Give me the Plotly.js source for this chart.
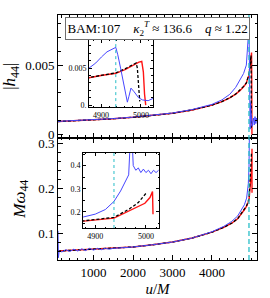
<!DOCTYPE html>
<html><head><meta charset="utf-8">
<script src="https://cdn.plot.ly/plotly-3.0.1.min.js"></script>
<style>html,body{margin:0;padding:0;background:#fff}#chart{width:270px;height:298px}</style>
</head><body><div id="chart"></div>
<script>
// ---- data ----
const mergerU = 4937;

// amplitude |h44|
const uAmpRed   = [100, 500, 1000, 1500, 2000, 2500, 3000, 3500, 4000, 4250, 4450, 4600, 4700, 4800, 4870, 4900, 4937, 4960, 4980, 4995, 5002, 5006, 5009, 5012];
const ampRed    = [0.00095, 0.00100, 0.00107, 0.00115, 0.00125, 0.00138, 0.00154, 0.00178, 0.00212, 0.00238, 0.00265, 0.00292, 0.00315, 0.00345, 0.00370, 0.00400, 0.00430, 0.00480, 0.00540, 0.00580, 0.00590, 0.00450, 0.00150, 0.00000];
const uAmpBlack = [100, 500, 1000, 1500, 2000, 2500, 3000, 3500, 4000, 4250, 4450, 4600, 4700, 4800, 4870, 4900, 4937, 4960, 4980, 4988, 4991, 4994, 4997];
const ampBlack  = [0.00095, 0.00100, 0.00107, 0.00115, 0.00125, 0.00138, 0.00154, 0.00178, 0.00212, 0.00238, 0.00265, 0.00292, 0.00316, 0.00347, 0.00372, 0.00402, 0.00435, 0.00490, 0.00550, 0.00570, 0.00500, 0.00250, 0.00050];
const uAmpBlue  = [100, 500, 1000, 1500, 2000, 2500, 3000, 3500, 4000, 4250, 4450, 4600, 4700, 4800, 4870, 4887, 4901, 4915, 4937, 4942, 4949, 4956, 4963, 4966, 4970, 4975, 4983, 4994, 5004, 5018, 5030, 5050, 5070, 5090, 5110, 5130, 5140];
const ampBlue   = [0.00096, 0.00101, 0.00108, 0.00116, 0.00126, 0.00139, 0.00156, 0.00181, 0.00218, 0.00250, 0.00290, 0.00340, 0.00385, 0.00440, 0.00500, 0.00570, 0.00650, 0.00720, 0.00780, 0.00680, 0.00500, 0.00310, 0.00110, 0.00040, 0.00120, 0.00230, 0.00180, 0.00100, 0.00070, 0.00060, 0.00090, 0.00120, 0.00070, 0.00130, 0.00080, 0.00120, 0.00100];

// frequency M*omega44
const uFrqRed   = [100, 500, 1000, 1500, 2000, 2500, 3000, 3500, 4000, 4300, 4500, 4650, 4750, 4820, 4877, 4937, 4967, 4985, 4998, 5008, 5013, 5014];
const frqRed    = [0.060, 0.062, 0.064, 0.066, 0.069, 0.074, 0.080, 0.089, 0.102, 0.113, 0.122, 0.132, 0.143, 0.152, 0.160, 0.173, 0.204, 0.220, 0.237, 0.262, 0.288, 0.190];
const uFrqBlack = [100, 500, 1000, 1500, 2000, 2500, 3000, 3500, 4000, 4300, 4500, 4650, 4750, 4820, 4877, 4937, 4967, 4985, 4995, 5000];
const frqBlack  = [0.060, 0.062, 0.064, 0.066, 0.069, 0.074, 0.080, 0.089, 0.102, 0.113, 0.122, 0.132, 0.144, 0.153, 0.161, 0.176, 0.212, 0.240, 0.265, 0.280];
const uFrqBlue  = [100, 110, 130, 200, 300, 400, 500, 600, 700, 800, 900, 1000, 1100, 1200, 1300, 1400, 1500, 2000, 2500, 3000, 3500, 4000, 4300, 4500, 4650, 4750, 4820, 4877, 4900, 4920, 4937, 4950, 4960, 4966, 4969, 4973, 4975, 4980, 4985, 4990, 4995, 5000, 5005, 5010, 5015, 5020, 5025];
const frqBlue   = [0.105, 0.045, 0.060, 0.058, 0.063, 0.059, 0.064, 0.060, 0.065, 0.061, 0.066, 0.062, 0.066, 0.063, 0.066, 0.064, 0.066, 0.069, 0.074, 0.080, 0.089, 0.103, 0.115, 0.126, 0.138, 0.152, 0.163, 0.178, 0.190, 0.210, 0.245, 0.290, 0.330, 0.360, 0.500, 0.500, 0.400, 0.380, 0.390, 0.370, 0.385, 0.370, 0.380, 0.365, 0.380, 0.370, 0.380];

// tick labels
const xMainTicks = [1000, 2000, 3000, 4000];
const yAmpTicks = [0, 0.005];
const yAmpText  = ['0', '0.005'];
const yAmpInsetText = ['0.', '0.005'];
const yFrqTicks = [0.1, 0.2, 0.3];
const yFrqInsetTicks = [0.2, 0.3, 0.4];
const xInsetTicks = [4900, 5000];
const boxText = 'BAM:107    <i>κ</i><sub>2</sub><sup><i>T</i></sup> ≈ 136.6    <i>q</i> ≈ 1.22';

// ---- styling ----
const FONT = 'Liberation Serif, Times New Roman, serif';
const cBlue = 'rgb(70,70,255)', cRed = 'rgb(255,20,20)', cBlack = 'black', cCyan = 'rgb(40,190,200)';

function tr(x, y, xa, ya, color, dash, w) {
  return {x: x, y: y, xaxis: xa, yaxis: ya, type: 'scatter', mode: 'lines',
          line: {color: color, width: w, dash: dash}, hoverinfo: 'skip', showlegend: false, cliponaxis: true};
}
const traces = [];
[['x2','y2'],['x3','y3']].forEach(([xa,ya]) => {
  traces.push(tr(uAmpRed, ampRed, xa, ya, cRed, 'solid', 1.4));
  traces.push(tr(uAmpBlack, ampBlack, xa, ya, cBlack, '3px,2px', 1.3));
  traces.push(tr(uAmpBlue, ampBlue, xa, ya, cBlue, 'solid', 1));
});
[['x','y'],['x4','y4']].forEach(([xa,ya]) => {
  traces.push(tr(uFrqRed, frqRed, xa, ya, cRed, 'solid', 1.4));
  traces.push(tr(uFrqBlack, frqBlack, xa, ya, cBlack, '3px,2px', 1.3));
  traces.push(tr(uFrqBlue, frqBlue, xa, ya, cBlue, 'solid', 1));
});

function ax(extra) {
  return Object.assign({
    showline: true, linecolor: 'black', linewidth: 1, mirror: 'allticks',
    ticks: 'inside', ticklen: 5, tickwidth: 1, tickcolor: 'black',
    showgrid: false, zeroline: false, fixedrange: true,
    tickfont: {family: FONT, size: 13, color: 'black'}
  }, extra);
}
const insetFont = {family: FONT, size: 8, color: 'black'};

const layout = {
  width: 270, height: 298,
  margin: {l: 58, r: 13, t: 15, b: 38},
  paper_bgcolor: 'white', plot_bgcolor: 'white',
  font: {family: FONT, color: 'black'},
  showlegend: false,
  xaxis: ax({domain: [0, 1], anchor: 'y', range: [100, 5140], tickvals: xMainTicks,
             minor: {dtick: 200, tick0: 0, ticks: 'inside', ticklen: 2.5, tickcolor: 'black'},
             title: {text: '<i>u</i>/<i>M</i>', font: {family: FONT, size: 15}, standoff: 4}}),
  yaxis: ax({domain: [0, 0.5], anchor: 'x', range: [0.04, 0.313], tickvals: yFrqTicks,
             minor: {dtick: 0.02, tick0: 0, ticks: 'inside', ticklen: 2.5, tickcolor: 'black'},
             title: {text: '<i>M</i><i>ω</i><sub>44</sub>', font: {family: FONT, size: 17}, standoff: 8}}),
  xaxis2: ax({domain: [0, 1], anchor: 'y2', matches: 'x', range: [100, 5140], tickvals: xMainTicks, showticklabels: false,
             minor: {dtick: 200, tick0: 0, ticks: 'inside', ticklen: 2.5, tickcolor: 'black'}}),
  yaxis2: ax({domain: [0.5, 1], anchor: 'x2', range: [-0.0002, 0.0086], tickvals: yAmpTicks, ticktext: yAmpText,
             minor: {dtick: 0.001, tick0: 0, ticks: 'inside', ticklen: 2.5, tickcolor: 'black'},
             title: {text: '|<i>h</i><sub>44</sub>|', font: {family: FONT, size: 17}, standoff: 6}}),
  xaxis3: ax({domain: [0.156, 0.477], anchor: 'y3', range: [4870, 5030], tickvals: xInsetTicks, ticklen: 3,
             tickfont: insetFont, minor: {dtick: 20, ticks: 'inside', ticklen: 1.5, tickcolor: 'black'}}),
  yaxis3: ax({domain: [0.624, 0.898], anchor: 'x3', range: [-0.00027, 0.0088], tickvals: yAmpTicks, ticktext: yAmpInsetText, ticklen: 3,
             tickfont: insetFont, minor: {dtick: 0.001, tick0: 0, ticks: 'inside', ticklen: 1.5, tickcolor: 'black'}}),
  xaxis4: ax({domain: [0.126, 0.508], anchor: 'y4', range: [4876, 5026], tickvals: xInsetTicks, ticklen: 3,
             tickfont: insetFont, minor: {dtick: 20, ticks: 'inside', ticklen: 1.5, tickcolor: 'black'}}),
  yaxis4: ax({domain: [0.1306, 0.437], anchor: 'x4', range: [0.13, 0.455], tickvals: yFrqInsetTicks, ticklen: 3,
             tickfont: insetFont, minor: {dtick: 0.05, tick0: 0, ticks: 'inside', ticklen: 1.5, tickcolor: 'black'}}),
  shapes: [
    {type: 'line', xref: 'x', yref: 'paper', x0: mergerU, x1: mergerU, y0: 0, y1: 1, line: {color: cCyan, width: 1.3, dash: '5px,3px'}, layer: 'above'},
    {type: 'line', xref: 'x3', yref: 'y3 domain', x0: mergerU, x1: mergerU, y0: 0, y1: 1, line: {color: cCyan, width: 1, dash: 'dot'}, layer: 'above'},
    {type: 'line', xref: 'x4', yref: 'y4 domain', x0: mergerU, x1: mergerU, y0: 0, y1: 1, line: {color: cCyan, width: 1, dash: 'dot'}, layer: 'above'}
  ],
  annotations: [
    {text: boxText, xref: 'paper', yref: 'paper', x: 0.5, y: 0.992, xanchor: 'center', yanchor: 'top',
     showarrow: false, font: {family: FONT, size: 13, color: 'black'}, bgcolor: 'white',
     bordercolor: 'rgb(110,110,110)', borderwidth: 1, borderpad: 1.5}
  ]
};

Plotly.newPlot('chart', traces, layout, {staticPlot: true, displayModeBar: false});
</script></body></html>
